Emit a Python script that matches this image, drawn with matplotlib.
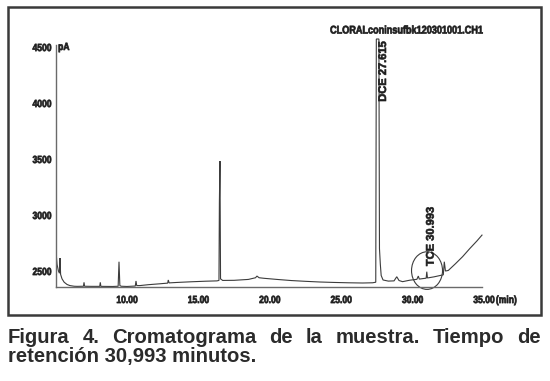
import matplotlib
matplotlib.use("Agg")
import matplotlib.pyplot as plt
from matplotlib.patches import Ellipse, Rectangle
from matplotlib import font_manager as fm
from matplotlib.patheffects import AbstractPathEffect
from matplotlib.transforms import Affine2D

# ---------------- data ----------------
time_min = [5.03, 5.10, 5.20, 5.27, 5.31, 5.35, 5.45, 5.60, 5.80, 6.00, 6.30,
            6.50, 6.95, 6.99, 7.03, 7.50, 8.09, 8.13, 8.17, 9.00, 9.38, 9.44,
            9.50, 9.60, 10.00, 10.58, 10.63, 10.68, 10.90, 11.50, 12.30, 12.85,
            12.89, 12.95, 13.50, 14.50, 15.50, 16.30, 16.44, 16.47, 16.51, 16.55,
            16.70, 17.50, 18.50, 19.00, 19.10, 19.25, 19.60, 20.50, 21.50, 22.50,
            23.50, 24.50, 25.50, 26.50, 27.20, 27.42, 27.46, 27.64, 27.68, 27.74,
            27.80, 27.93, 28.30, 28.70, 28.89, 29.05, 29.30, 29.80, 30.30, 30.40,
            30.47, 30.70, 30.95, 30.993, 31.04, 31.50, 32.00, 32.15, 32.22, 32.30,
            32.50, 33.00, 33.50, 34.00, 34.50, 34.86]
signal_pA = [2672, 2560, 2500, 2480, 2616, 2470, 2430, 2400, 2380, 2370, 2364,
             2363, 2364, 2399, 2364, 2363, 2363, 2399, 2363, 2362, 2364, 2583,
             2370, 2364, 2362, 2366, 2411, 2370, 2370, 2378, 2386, 2392,
             2420, 2394, 2398, 2404, 2409, 2412, 2416, 3115, 3482, 2430,
             2416, 2417, 2425, 2440, 2455, 2440, 2435, 2425, 2415, 2408,
             2402, 2398, 2395, 2393, 2395, 2400, 4572, 4572, 2700, 2560,
             2460, 2420, 2410, 2412, 2449, 2415, 2405, 2418, 2426, 2455,
             2428, 2432, 2436, 2494, 2438, 2448, 2462, 2466, 2583, 2500,
             2505, 2565, 2628, 2700, 2768, 2821]

x_ticks = [10, 15, 20, 25, 30, 35]
x_tick_labels = ["10.00", "15.00", "20.00", "25.00", "30.00", "35.00"]
y_ticks = [2500, 3000, 3500, 4000, 4500]
y_tick_labels = ["2500", "3000", "3500", "4000", "4500"]

peak_labels = ["DCE 27.615", "TCE 30.993"]
file_title = "CLORALconinsufbk120301001.CH1"
caption_line1 = "Figura 4. Cromatograma de la muestra. Tiempo de"
caption_line2 = "retención 30,993 minutos."


# condensed heavy look: squeeze rendered glyphs horizontally and thicken them
# (the text stays a normal Text artist)
class HSqueeze(AbstractPathEffect):
    def __init__(self, sx=0.82, anchor="center", stroke=0.5):
        super().__init__()
        self.sx = sx
        self.anchor = anchor
        self.stroke = stroke

    def draw_path(self, renderer, gc, tpath, affine, rgbFace=None):
        ext = tpath.get_extents(affine)
        px = {"left": ext.x0, "center": 0.5 * (ext.x0 + ext.x1), "right": ext.x1}[self.anchor]
        aff = affine + Affine2D().translate(-px, 0).scale(self.sx, 1.0).translate(px, 0)
        gc0 = renderer.new_gc()
        gc0.copy_properties(gc)
        if rgbFace is not None and self.stroke > 0:
            gc0.set_foreground(rgbFace)
            gc0.set_linewidth(self.stroke)
            gc0.set_joinstyle("round")
        renderer.draw_path(gc0, tpath, aff, rgbFace)
        gc0.restore()


SQ = 0.82
bold_fp = fm.FontProperties(family=["Liberation Sans", "DejaVu Sans"], weight="bold")

def bfp(size):
    p = bold_fp.copy()
    p.set_size(size)
    return p

W, H = 550, 381
fig = plt.figure(figsize=(W / 100, H / 100), dpi=100)
fig.patch.set_facecolor("white")
renderer = fig.canvas.get_renderer()

def fx(px):
    return px / W

def fy(py):
    return 1 - py / H

TEXT_C = "#1e1e1e"
tick_size = 7.5

ax_left, ax_right, ax_top, ax_bottom = 55.6, 484.0, 37.0, 286.7
ax = fig.add_axes([fx(ax_left), fy(ax_bottom), fx(ax_right - ax_left), (ax_bottom - ax_top) / H])
ax.set_facecolor("white")
ax.plot(time_min, signal_pA, color="#3c3c3c", lw=0.8, solid_joinstyle="miter")
ax.set_xlim(5.0, 35.0)
ax.set_ylim(2360, 4590)

for s in ["top", "right"]:
    ax.spines[s].set_visible(False)
for s in ["left", "bottom"]:
    ax.spines[s].set_color("#6a6a6a")
    ax.spines[s].set_linewidth(1.0)
ax.spines["left"].set_bounds(2360, 4520)
ax.spines["bottom"].set_bounds(5.0, 34.86)

ax.set_xticks(x_ticks)
ax.set_xticklabels(x_tick_labels)
ax.set_yticks(y_ticks)
ax.set_yticklabels(y_tick_labels)
ax.tick_params(axis="both", length=0, colors=TEXT_C)
ax.tick_params(axis="x", pad=6)
ax.tick_params(axis="y", pad=3)
for lab in ax.get_xticklabels():
    lab.set_fontproperties(bfp(tick_size))
    lab.set_path_effects([HSqueeze(SQ, "center")])
for lab in ax.get_yticklabels():
    lab.set_fontproperties(bfp(tick_size))
    lab.set_path_effects([HSqueeze(SQ, "right")])

# "(min)" after the 35.00 label
ax.annotate("(min)", xy=(35.0, 2360), xycoords="data", xytext=(8.5, -6),
            textcoords="offset points", ha="left", va="top",
            fontproperties=bfp(tick_size), color=TEXT_C, annotation_clip=False,
            path_effects=[HSqueeze(SQ, "left")])

# pA unit
fig.text(fx(58), fy(47), "pA", ha="left", va="center", fontproperties=bfp(tick_size),
         color=TEXT_C, path_effects=[HSqueeze(SQ, "left")])

# file title
fig.text(fx(406.7), fy(30.5), file_title, ha="center", va="center",
         fontproperties=bfp(8.0), color=TEXT_C, path_effects=[HSqueeze(SQ, "center")])

# peak labels
fig.text(fx(383), fy(41), peak_labels[0], rotation=90, ha="center", va="top",
         fontproperties=bfp(8.0), color=TEXT_C, path_effects=[HSqueeze(1.0, "center", 0.45)])
fig.text(fx(430.7), fy(207), peak_labels[1], rotation=90, ha="center", va="top",
         fontproperties=bfp(8.0), color=TEXT_C, path_effects=[HSqueeze(1.0, "center", 0.45)])

# circle around TCE
ax.add_patch(Ellipse((31.01, 2504), width=2.17, height=336, fill=False,
                     edgecolor="#3c3c3c", lw=0.8, clip_on=False))

# outer frame
fig.patches.append(Rectangle((fx(8), fy(315)), fx(533), 308 / H, transform=fig.transFigure,
                             fill=False, edgecolor="#3a3a3a", lw=1.8))

# caption: line 1 justified between x=8 and x=541
cap_kw = dict(fontproperties=bfp(14.6), color="#2b2b2b", va="baseline")
words = caption_line1.split(" ")
texts = [fig.text(0, fy(343.3), w, ha="left", **cap_kw) for w in words]
widths = [t.get_window_extent(renderer).width for t in texts]
gap = (533 - sum(widths)) / (len(words) - 1)
x = 8.0
for t, w in zip(texts, widths):
    t.set_x(fx(x))
    x += w + gap
fig.text(fx(8), fy(361.7), caption_line2, ha="left", **cap_kw)

fig.savefig("out.png", dpi=100, facecolor="white")
